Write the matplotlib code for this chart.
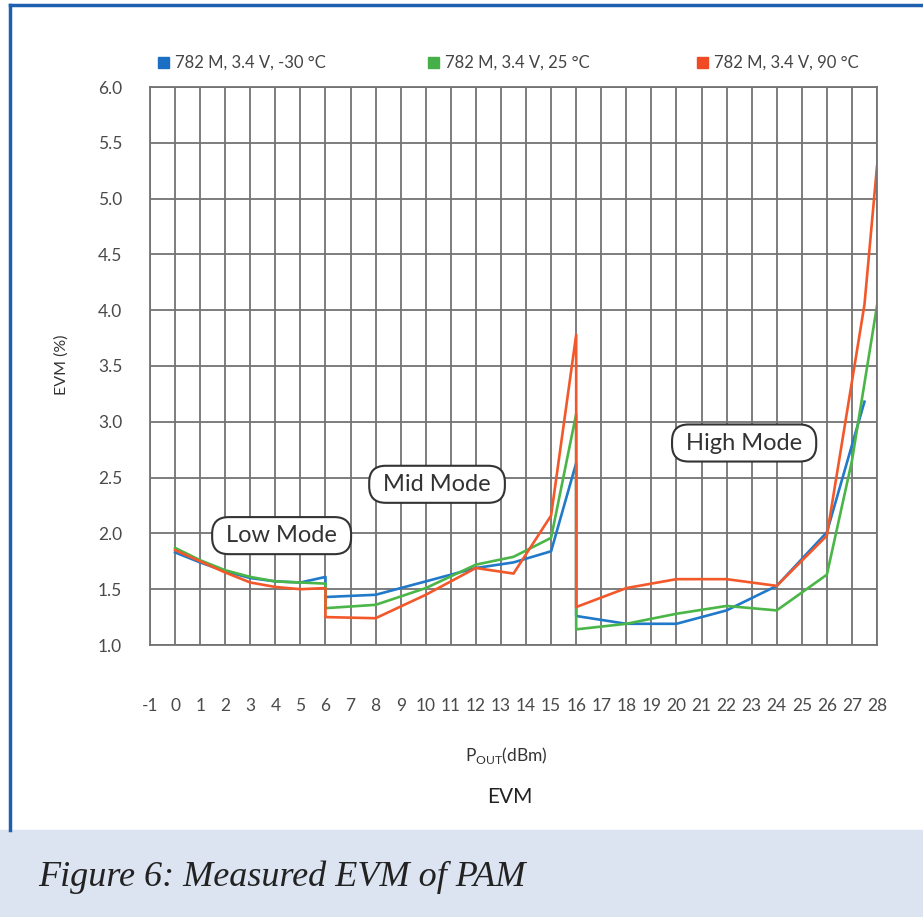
import matplotlib.pyplot as plt
from matplotlib.lines import Line2D
from matplotlib.patches import Rectangle

plt.rcParams['font.family'] = ['Lato', 'DejaVu Sans']
plt.rcParams['axes.unicode_minus'] = False

# EVM (%) vs output power (dBm), three temperatures
x_cold = [0, 1, 2, 3, 4, 5, 6, 6, 8, 10, 12, 13.5, 15, 16, 16, 18, 20, 22, 24, 26, 27.5]
evm_cold = [1.83, 1.74, 1.66, 1.60, 1.57, 1.56, 1.61, 1.43, 1.45, 1.57, 1.69, 1.74, 1.84, 2.63,
            1.26, 1.19, 1.19, 1.31, 1.53, 2.01, 3.18]

x_room = [0, 1, 2, 3, 4, 5, 6, 6, 8, 10, 12, 13.5, 15, 16, 16, 18, 20, 22, 24, 26, 27, 28]
evm_room = [1.87, 1.76, 1.67, 1.61, 1.57, 1.56, 1.55, 1.33, 1.36, 1.51, 1.72, 1.79, 1.96, 3.07,
            1.14, 1.19, 1.28, 1.35, 1.31, 1.63, 2.65, 4.04]

x_hot = [0, 1, 2, 3, 4, 5, 6, 6, 8, 10, 12, 13.5, 15, 16, 16, 18, 20, 22, 24, 26, 27.5, 28]
evm_hot = [1.85, 1.75, 1.65, 1.56, 1.52, 1.50, 1.51, 1.25, 1.24, 1.45, 1.69, 1.64, 2.16, 3.78,
           1.34, 1.51, 1.59, 1.59, 1.53, 1.98, 4.05, 5.29]

labels = ['782 M, 3.4 V, -30 °C', '782 M, 3.4 V, 25 °C', '782 M, 3.4 V, 90 °C']
colors = ['#2079c9', '#4bb648', '#f2582a']
legend_colors = ['#1a6fc4', '#45b048', '#ef4a23']

x_ticks = list(range(-1, 29))
y_ticks = [1.0, 1.5, 2.0, 2.5, 3.0, 3.5, 4.0, 4.5, 5.0, 5.5, 6.0]

modes = ['Low Mode', 'Mid Mode', 'High Mode']
mode_pos = [(4.25, 1.98), (10.45, 2.44), (22.7, 2.81)]

fig = plt.figure(figsize=(9.23, 9.17), dpi=100)
ax = fig.add_axes([150 / 923, 1 - 645 / 917, 727 / 923, 558 / 917])

ax.plot(x_cold, evm_cold, color=colors[0], lw=1.9)
ax.plot(x_room, evm_room, color=colors[1], lw=1.9)
ax.plot(x_hot, evm_hot, color=colors[2], lw=1.9)

ax.set_xlim(-1, 28)
ax.set_ylim(1.0, 6.0)
ax.set_xticks(x_ticks)
ax.set_yticks(y_ticks)
ax.set_yticklabels([f'{v:.1f}' for v in y_ticks])
ax.grid(True, color='#737373', lw=1.3)
ax.set_axisbelow(True)
for s in ax.spines.values():
    s.set_color('#737373')
    s.set_linewidth(1.3)
ax.tick_params(axis='both', length=0, labelsize=12.5, colors='#4a4a4a')
ax.tick_params(axis='x', pad=38)
ax.tick_params(axis='y', pad=20)

for txt, (mx, my) in zip(modes, mode_pos):
    ax.text(mx, my, ' ' + txt + ' ', ha='center', va='center', fontsize=17, color='#333333',
            bbox=dict(boxstyle='round,pad=0.34,rounding_size=0.7', fc='white', ec='#333333', lw=1.5))

# legend row above the plot
leg_x = [158, 428, 697]
for lx, lab, c in zip(leg_x, labels, legend_colors):
    fig.add_artist(Rectangle((lx / 923, 1 - 68 / 917), 11 / 923, 11 / 917, color=c,
                             transform=fig.transFigure))
    fig.text((lx + 17) / 923, 1 - 63 / 917, lab, fontsize=12, color='#444444',
             ha='left', va='center')

fig.text(62 / 923, 1 - 365 / 917, 'EVM (%)', rotation=90, fontsize=11.5, color='#333333',
         ha='center', va='center')
fig.text(506 / 923, 1 - 755 / 917, r'P$_{\mathregular{OUT}}$(dBm)', fontsize=12.5, color='#333333',
         ha='center', va='center')
fig.text(510 / 923, 1 - 797 / 917, 'EVM', fontsize=15, color='#222222', ha='center', va='center')

# frame and caption band
fig.add_artist(Rectangle((0, 0), 1, 87 / 917, color='#dce3f1', transform=fig.transFigure, zorder=0))
fig.add_artist(Line2D([10 / 923, 10 / 923], [87 / 917, 1 - 5 / 917], color='#1f5fb0', lw=2.5,
                      transform=fig.transFigure))
fig.add_artist(Line2D([10 / 923, 1], [1 - 5 / 917, 1 - 5 / 917], color='#1f5fb0', lw=2.5,
                      transform=fig.transFigure))
fig.text(38 / 923, 1 - 877 / 917, 'Figure 6: Measured EVM of PAM', fontsize=26, style='italic',
         family='Liberation Serif', color='#222222', ha='left', va='center')

fig.savefig('out.png', dpi=100)
